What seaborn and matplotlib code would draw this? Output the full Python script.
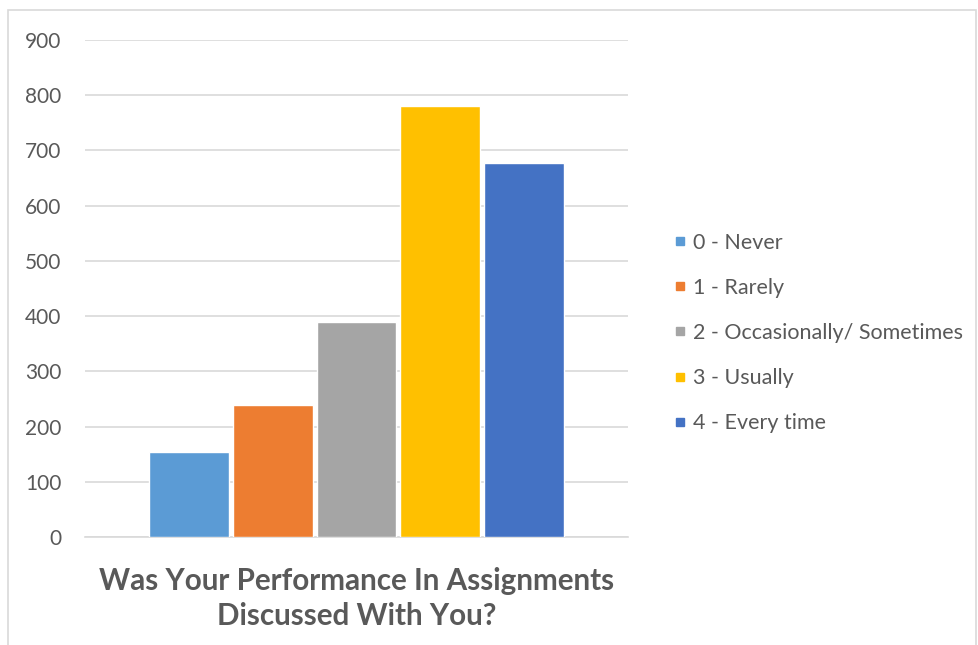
import matplotlib
matplotlib.use("Agg")
import matplotlib.pyplot as plt
import pandas as pd
import seaborn as sns
from matplotlib.patches import Rectangle
from matplotlib.lines import Line2D

# data
question = ["Was Your Performance In Assignments\nDiscussed With You?"]
responses = ["0 - Never", "1 - Rarely", "2 - Occasionally/ Sometimes", "3 - Usually", "4 - Every time"]
counts = [154, 239, 390, 780, 677]
colors = ["#5B9BD5", "#ED7D31", "#A5A5A5", "#FFC000", "#4472C4"]
y_ticks = [0, 100, 200, 300, 400, 500, 600, 700, 800, 900]

df = pd.DataFrame({"question": question * len(responses), "response": responses, "count": counts})

sns.set_theme(style="white")
plt.rcParams["font.family"] = ["Lato", "DejaVu Sans"]
text_color = "#595959"
grid_color = "#D9D9D9"

fig = plt.figure(figsize=(9.79, 6.45), dpi=100)
# chart border
fig.patches.append(Rectangle((8 / 979, -0.01), 968 / 979, 1 - 10 / 645 + 0.01, transform=fig.transFigure,
                             fill=False, edgecolor=grid_color, linewidth=1.2))
ax = fig.add_axes([85 / 979, 1 - 537 / 645, 543 / 979, (537 - 40) / 645])

sns.barplot(data=df, x="question", y="count", hue="response", palette=colors, saturation=1,
            width=0.77, gap=0.045, legend=False, ax=ax, zorder=3)

ax.set_ylim(0, 900)
ax.set_xlim(-0.5, 0.5)
ax.set_yticks(y_ticks)
ax.tick_params(axis="y", length=0, labelsize=15, labelcolor=text_color, pad=17)
ax.yaxis.grid(True, color=grid_color, linewidth=1.2, zorder=0)
ax.set_xticks([-0.5, 0.5])
ax.set_xticklabels(["", ""])
ax.tick_params(axis="x", length=6, width=1.2, color=grid_color, direction="out")
for side in ["left", "right", "top"]:
    ax.spines[side].set_visible(False)
ax.spines["bottom"].set_color(grid_color)
ax.spines["bottom"].set_linewidth(1.2)

ax.set_ylabel("")
ax.set_xlabel(question[0], fontsize=21.3, fontweight="bold", color=text_color, labelpad=12, linespacing=1.32)

handles = [Line2D([0], [0], marker="s", linestyle="", markersize=6, markerfacecolor=c, markeredgecolor=c)
           for c in colors]
fig.legend(handles, responses, loc="center left", bbox_to_anchor=(655 / 979, 1 - 333 / 645),
           frameon=False, fontsize=15.5, labelcolor=text_color, handlelength=0.5, handletextpad=0.35,
           labelspacing=1.17)

fig.savefig("out.png", dpi=100)
